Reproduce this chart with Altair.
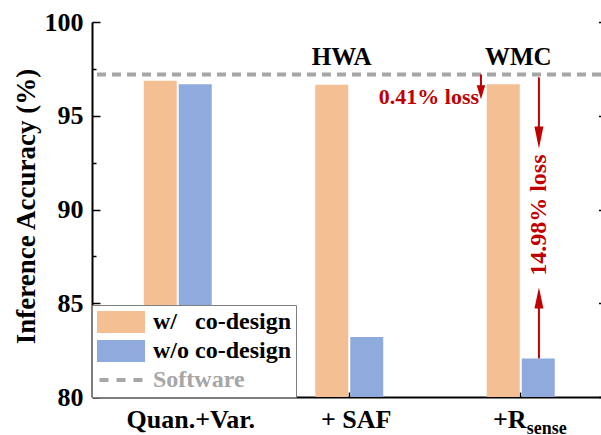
import altair as alt
import pandas as pd

# ---------------- data ----------------
categories = ["Quan.+Var.", "+ SAF", "+R"]
subscript_text = ["sense"]
series_names = ["w/\u00a0\u00a0\u00a0co-design", "w/o co-design"]
software_name = "Software"
acc_with = [96.87, 96.65, 96.68]
acc_without = [96.68, 83.2, 82.06]
software_acc = [97.2]
y_major = [80, 85, 90, 95, 100]
y_minor = [82.5, 87.5, 92.5, 97.5]

colors = ["#F5BF94", "#8FAADC", "#A6A6A6"]
red = "#C00000"

note_text = ["HWA", "WMC"]
note_x = [1.456, 2.486]
note_y = [97.7, 97.7]

loss_small_text = ["0.41% loss"]
loss_small_x = [2.257]
loss_small_y = [95.65]

loss_big_text = ["14.98% loss"]
loss_big_x = [2.606]
loss_big_y = [89.7]

arrow_x = [2.268, 2.606, 2.606]
arrow_from = [97.2, 97.05, 82.06]
arrow_to = [96.2, 93.6, 85.5]
head_y = [95.88, 93.26, 85.84]
head_kind = ["down_short", "down_long", "up_long"]

sub_x = [2.535]
sub_y = [78.05]

# ---------------- styling ----------------
FONT = "Liberation Serif"
head_paths = {
    "down_short": "M-0.85,-2.8L0.85,-2.8L0,0Z",
    "down_long": "M-0.9,-4.4L0.9,-4.4L0,0Z",
    "up_long": "M-0.9,4.2L0.9,4.2L0,0Z",
}
legend_items = series_names + [software_name]
swatch = "M-2.1818,-1H2.1818V1H-2.1818Z"
dashes = ("M-1.9545,-0.1818H-1.1364V0.1818H-1.9545Z"
          "M-0.409,-0.1818H0.409V0.1818H-0.409Z"
          "M1.1364,-0.1818H1.9545V0.1818H1.1364Z")
legend_shapes = [swatch, swatch, dashes]

bars_df = pd.DataFrame({
    "category": categories * 2,
    "series": [series_names[0]] * 3 + [series_names[1]] * 3,
    "acc": acc_with + acc_without,
})

yscale = alt.Scale(domain=[80, 100], nice=False, zero=False)
xq = alt.Scale(domain=[0, 3], range=[0, 514.5], nice=False, zero=False)
color_scale = alt.Scale(domain=legend_items, range=colors)

sw_test = f"datum.value === '{software_name}'"


def make_legend():
    return alt.Legend(
        title=None, orient="none", legendX=0, legendY=283, direction="vertical",
        fillColor="white", strokeColor="#7F7F7F", padding=5, rowPadding=5,
        symbolSize=484, symbolStrokeWidth=0, symbolOffset=12, labelOffset=20,
        labelFont=FONT, labelFontSize=24, labelFontWeight="bold",
        labelColor={"expr": f"{sw_test} ? '{colors[2]}' : '#000000'"},
        labelLimit=0, symbolOpacity=1,
    )


x_axis = alt.Axis(
    orient="bottom", title="", labelAngle=0, labelFont=FONT, labelFontSize=26,
    labelFontWeight="bold", labelColor="black", labelPadding=14,
    tickSize={"expr": "-5"}, tickColor="black", tickWidth=1.5,
    domainColor="black", domainWidth=2, labelLimit=0,
    labelOffset={"expr": f"datum.value === '{categories[2]}' ? -11 : (datum.value === '{categories[1]}' ? 7 : 13)"},
)

y_axis = alt.Axis(
    orient="left", values=y_major,
    title="Inference Accuracy (%)", titleFont=FONT, titleFontSize=27, titleFontWeight="bold",
    titleColor="black", titleX=-66, titleY=184, titleBaseline="middle", titleAngle=270,
    labelFont=FONT, labelFontSize=26, labelFontWeight="bold", labelColor="black",
    labelPadding=17, tickSize={"expr": "-8"}, tickColor="black", tickWidth=1.5,
    domainColor="black", domainWidth=2, grid=False,
)

bars = alt.Chart(bars_df).mark_bar(opacity=1).encode(
    x=alt.X("category:N", sort=categories,
            scale=alt.Scale(domain=categories, range=[0, 514.5], paddingInner=0.592, paddingOuter=0.296),
            axis=x_axis),
    xOffset=alt.XOffset("series:N", sort=series_names,
                        scale=alt.Scale(domain=series_names, paddingInner=0.057, paddingOuter=0.0285)),
    y=alt.Y("acc:Q", scale=yscale, axis=y_axis),
    y2=alt.datum(80),
    color=alt.Color("series:N", scale=color_scale, legend=make_legend()),
)

sw_df = pd.DataFrame({"acc": software_acc})
sw = alt.Chart(sw_df).mark_rule(strokeWidth=4, color=colors[2], strokeDash=[9, 6]).encode(
    y=alt.Y("acc:Q", scale=yscale,
            axis=alt.Axis(orient="right", offset=5.5, values=y_major, labels=False, title="",
                          tickSize={"expr": "-8"}, tickColor="black", tickWidth=1.5,
                          domainColor="black", domainWidth=2, grid=False)),
)

# empty layer: carries legend shapes and the minor ticks of the left axis
leg_df = pd.DataFrame({"series": pd.Series([], dtype=str), "acc": pd.Series([], dtype=float)})
leg = alt.Chart(leg_df).mark_point(filled=True, opacity=1).encode(
    y=alt.Y("acc:Q", scale=yscale,
            axis=alt.Axis(orient="left", values=y_minor, labels=False, title="", domain=False,
                          tickSize={"expr": "-4"}, tickColor="black", tickWidth=1.5, grid=False)),
    color=alt.Color("series:N", scale=color_scale, legend=make_legend()),
    shape=alt.Shape("series:N", scale=alt.Scale(domain=legend_items, range=legend_shapes),
                    legend=make_legend()),
)

top_axis = alt.Axis(orient="top", values=[0.5, 1.5, 2.5], labels=False, title="",
                    tickSize={"expr": "-5"}, tickColor="black", tickWidth=1.5,
                    domainColor="black", domainWidth=2, grid=False)

notes = alt.Chart(pd.DataFrame({"text": note_text, "x": note_x, "y": note_y})).mark_text(
    font=FONT, fontSize=25, fontWeight="bold", color="black", align="center", baseline="alphabetic"
).encode(x=alt.X("x:Q", scale=xq, axis=top_axis), y=alt.Y("y:Q", scale=yscale, axis=None), text="text:N")

loss1 = alt.Chart(pd.DataFrame({"text": loss_small_text, "x": loss_small_x, "y": loss_small_y})).mark_text(
    font=FONT, fontSize=22, fontWeight="bold", color=red, align="right", baseline="alphabetic"
).encode(x=alt.X("x:Q", scale=xq, axis=None), y=alt.Y("y:Q", scale=yscale, axis=None), text="text:N")

loss2 = alt.Chart(pd.DataFrame({"text": loss_big_text, "x": loss_big_x, "y": loss_big_y})).mark_text(
    font=FONT, fontSize=24, fontWeight="bold", color=red, align="center", baseline="middle", angle=270
).encode(x=alt.X("x:Q", scale=xq, axis=None), y=alt.Y("y:Q", scale=yscale, axis=None), text="text:N")

arrows = alt.Chart(pd.DataFrame({"x": arrow_x, "y": arrow_from, "y2": arrow_to})).mark_rule(
    color=red, strokeWidth=2
).encode(x=alt.X("x:Q", scale=xq, axis=None), y=alt.Y("y:Q", scale=yscale, axis=None), y2="y2:Q")

heads_base = alt.Chart(pd.DataFrame({"x": arrow_x, "y": head_y, "kind": head_kind}))
head_layers = [
    heads_base.transform_filter(alt.datum.kind == k).mark_point(
        filled=True, size=100, color=red, opacity=1, strokeWidth=0, shape=head_paths[k]
    ).encode(x=alt.X("x:Q", scale=xq, axis=None), y=alt.Y("y:Q", scale=yscale, axis=None))
    for k in head_kind
]

sub = alt.Chart(pd.DataFrame({"text": subscript_text, "x": sub_x, "y": sub_y})).mark_text(
    font=FONT, fontSize=18, fontWeight="bold", color="black", align="left", baseline="alphabetic"
).encode(x=alt.X("x:Q", scale=xq, axis=None), y=alt.Y("y:Q", scale=yscale, axis=None), text="text:N")

annot = alt.layer(notes, loss1, loss2, arrows, *head_layers, sub)

chart = alt.layer(bars, sw, leg, annot).resolve_scale(x="independent").resolve_axis(
    x="independent", y="independent"
).properties(
    width=509, height=375,
    autosize=alt.AutoSizeParams(type="none"),
    padding={"left": 92, "top": 22, "right": 0, "bottom": 38},
).configure_view(stroke="transparent")

chart.save("out.html", embed_options={"renderer": "svg", "actions": False})
